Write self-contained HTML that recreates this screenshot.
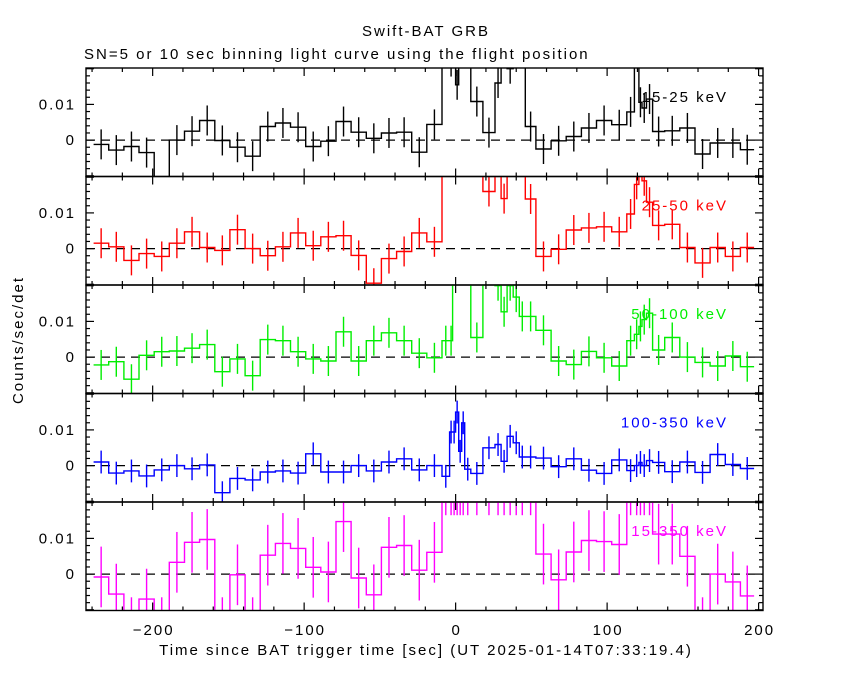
<!DOCTYPE html>
<html><head><meta charset="utf-8">
<style>
html,body{margin:0;padding:0;background:#fff;}
svg{display:block;font-family:"Liberation Sans",sans-serif;}
svg text{letter-spacing:2px;}
</style></head>
<body>
<svg id="chart" width="850" height="680" viewBox="0 0 850 680" xmlns="http://www.w3.org/2000/svg">
<rect x="0" y="0" width="850" height="680" fill="#fff"/>
<text x="426" y="36" text-anchor="middle" font-size="15">Swift-BAT GRB</text>
<text x="84" y="59" font-size="15">SN=5 or 10 sec binning light curve using the flight position</text>
<text x="426" y="655" text-anchor="middle" font-size="15">Time since BAT trigger time [sec] (UT 2025-01-14T07:33:19.4)</text>
<text x="0" y="0" transform="translate(23,340) rotate(-90)" text-anchor="middle" font-size="15">Counts/sec/det</text>
<g id="panels"></g>
</svg>
<script>
const edges = [-239,-229,-219,-209,-199,-189,-179,-169,-159,-149,-139,-129,-119,-109,-99,-89,-79,-69,-59,-49,-39,-29,-19,-9,
 -4,-2,0,2,4,6,10,18,26,30,34,38,42,46,53,
 63,73,83,93,103,113,118,121,123,126,130,138,148,158,168,178,188,197];
const bandLabels = ["15-25 keV","25-50 keV","50-100 keV","100-350 keV","15-350 keV"];
const bandColors = ["#000000","#ff0000","#00ee00","#0000ff","#ff00ff"];
const rate15_25 = [-0.0012,-0.0028,-0.0018,-0.0035,-0.015,0.0,0.0025,0.0055,-0.0001,-0.002,-0.0045,0.0038,0.0048,0.0036,-0.0018,-0.0003,0.0052,0.0022,0.0005,0.002,0.0022,-0.0034,0.0044,
 0.025,0.022,0.025,0.0155,0.025,0.025,0.025,0.0108,0.0021,0.016,0.025,0.02,0.025,0.025,0.0038,
 -0.0025,-0.0002,0.001,0.0034,0.0055,0.0043,0.0079,0.025,0.0106,0.009,0.0115,0.0024,0.0026,0.0034,-0.0039,-0.0008,-0.0008,-0.0027];
const rate25_50 = [0.0015,0.0005,-0.0033,-0.0014,-0.0022,0.0015,0.0047,0.0003,-0.0005,0.0053,0,-0.002,0.0005,0.0044,0.0008,0.0033,0.0036,-0.0019,-0.0097,-0.0028,-0.0008,0.0044,0.0019,
 0.025,0.025,0.025,0.025,0.025,0.025,0.025,0.025,0.016,0.025,0.014,0.025,0.025,0.025,0.0139,
 -0.0022,-0.0002,0.0052,0.0058,0.0061,0.0047,0.0097,0.018,0.025,0.019,0.013,0.0065,0.0068,0.0003,-0.004,0.0003,-0.0022,0.0003];
const rate50_100 = [-0.0022,-0.0013,-0.0062,0.0005,0.0015,0.0017,0.0025,0.0035,-0.0041,-0.0005,-0.0052,0.0049,0.0046,0.0015,-0.0005,-0.0011,0.0071,-0.0011,0.0046,0.0068,0.0046,0.0011,-0.0002,
 0.0046,0.0046,0.025,0.025,0.025,0.025,0.025,0.0055,0.025,0.02,0.0127,0.02,0.0168,0.0114,0.0114,
 0.0075,-0.0011,-0.0021,0.0016,-0.0002,-0.0025,0.0046,0.0064,0.0086,0.0105,0.0123,0.002,0.0055,0,-0.0015,-0.0025,0.0003,-0.0027];
const rate100_350 = [0.001,-0.0021,-0.0015,-0.0029,-0.0012,0,-0.0009,0.0002,-0.0076,-0.0036,-0.004,-0.0018,-0.0015,-0.0021,0.0033,-0.0018,-0.0018,0,-0.0015,0.001,0.0019,-0.0012,0,
 -0.003,0.0094,0.0094,0.015,0.004,0.012,-0.001,-0.0022,0.005,0.0059,0.0012,0.0082,0.0064,0.0024,0.0024,
 0.0021,-0.0003,0.0019,-0.0013,-0.0022,0.0016,-0.0014,0,0.0009,0,0.0014,0.0009,-0.0017,0.001,-0.0019,0.0031,0.0003,-0.0008];
const rate15_350 = [-0.0008,-0.0056,-0.015,-0.007,-0.015,0.0033,0.0089,0.0097,-0.015,-0.0002,-0.015,0.0053,0.0086,0.0072,0.0019,0.0006,0.0147,-0.0011,-0.0058,0.0075,0.008,0.0011,0.0061,
 0.025,0.025,0.025,0.025,0.025,0.025,0.025,0.025,0.025,0.025,0.025,0.025,0.025,0.025,0.025,
 0.0056,-0.0016,0.0062,0.0094,0.0091,0.0083,0.025,0.025,0.025,0.025,0.025,0.0112,0.0112,0.005,-0.015,0,-0.0022,-0.0061];
const bandErrors = [0.0042,0.0042,0.0042,0.0032,0.0085];
const xTickLabels = [-200,-100,0,100,200];
const yTickLabels = [0,0.01];

const series = [rate15_25, rate25_50, rate50_100, rate100_350, rate15_350];
const NS = "http://www.w3.org/2000/svg";
const X0 = 86, X1 = 763, TMIN = -244, TMAX = 202.9;
const PTOP = 68, PH = 108.5, YMIN = -0.0102, YMAX = 0.0202;
function xs(t){ return X0 + (t - TMIN) / (TMAX - TMIN) * (X1 - X0); }
function ys(p, v){ return PTOP + p*PH + (YMAX - v) / (YMAX - YMIN) * PH; }
function mk(tag, attrs, parent){ const e = document.createElementNS(NS, tag); for (const k in attrs) e.setAttribute(k, attrs[k]); parent.appendChild(e); return e; }
const root = document.getElementById('panels');
const defs = mk('defs', {}, root);

series.forEach((vals, p) => {
  const top = PTOP + p*PH, bot = top + PH;
  const g = mk('g', {}, root);
  
  
  const cp = mk('clipPath', {id: 'clip' + p}, defs);
  mk('rect', {x: X0, y: top, width: X1 - X0, height: PH}, cp);
  const zl = mk('line', {x1: X0, x2: X1, y1: ys(p,0), y2: ys(p,0), stroke: '#000', 'stroke-width': 1.2, 'stroke-dasharray': '9,6'}, g);
  
  
  const dg = mk('g', {'clip-path': 'url(#clip' + p + ')', stroke: bandColors[p], 'stroke-width': 1.4, fill: 'none'}, g);
  
  
  let d = '';
  vals.forEach((v, i) => {
    const xa = xs(edges[i]), xb = xs(edges[i+1]), y = ys(p, v);
    d += (i === 0 ? 'M' : 'L') + xa.toFixed(1) + ',' + y.toFixed(1) + 'L' + xb.toFixed(1) + ',' + y.toFixed(1);
  });
  const st = mk('path', {d: d}, dg);
  
  
  vals.forEach((v, i) => {
    const xc = xs((edges[i] + edges[i+1]) / 2);
    const eb = mk('line', {x1: xc, x2: xc, y1: ys(p, v + bandErrors[p]), y2: ys(p, v - bandErrors[p])}, dg);
    
    
  });
  const fr = mk('rect', {x: X0, y: top, width: X1 - X0, height: PH, fill: 'none', stroke: '#000', 'stroke-width': 1.4}, g);
  
  
  for (let t = -240; t <= 200; t += 20) {
    const x = xs(t), L = (t % 100 === 0) ? 8 : 4;
    mk('line', {x1: x, x2: x, y1: top, y2: top + L, stroke: '#000', 'stroke-width': 1.2}, g);
    mk('line', {x1: x, x2: x, y1: bot, y2: bot - L, stroke: '#000', 'stroke-width': 1.2}, g);
  }
  for (let k = -5; k <= 10; k++) {
    const v = k * 0.002; const y = ys(p, v);
    if (y < top - 0.1 || y > bot + 0.1) continue;
    const L = (k % 5 === 0) ? 8 : 4;
    mk('line', {x1: X0, x2: X0 + L, y1: y, y2: y, stroke: '#000', 'stroke-width': 1.2}, g);
    mk('line', {x1: X1, x2: X1 - L, y1: y, y2: y, stroke: '#000', 'stroke-width': 1.2}, g);
  }
  yTickLabels.forEach(v => {
    const tl = mk('text', {x: 76, y: ys(p, v) + 5, 'text-anchor': 'end', 'font-size': 15, fill: '#000'}, g);
    tl.textContent = v === 0 ? '0' : String(v);
    
    
  });
  const lb = mk('text', {x: 728, y: top + 34, 'text-anchor': 'end', 'font-size': 15, fill: bandColors[p]}, g);
  lb.textContent = bandLabels[p];
  
  
});
const xg = mk('g', {}, root);


xTickLabels.forEach(t => {
  const tl = mk('text', {x: xs(t) + 1, y: 635, 'text-anchor': 'middle', 'font-size': 15, fill: '#000'}, xg);
  tl.textContent = String(t).replace('-', '\u2212');
  
  
});
</script>
</body></html>
